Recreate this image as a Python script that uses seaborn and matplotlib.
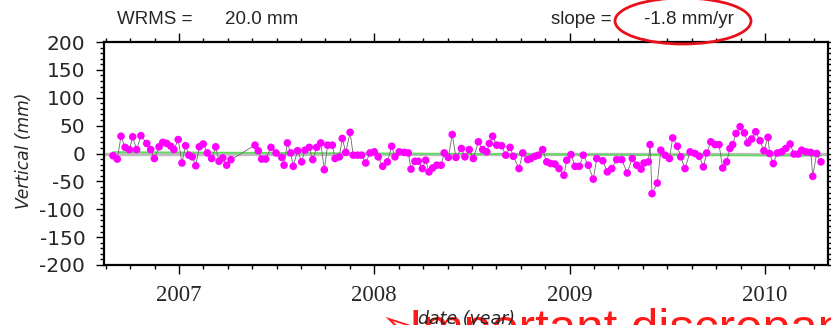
import numpy as np
import pandas as pd
import matplotlib
matplotlib.use("Agg")
import matplotlib.pyplot as plt
import seaborn as sns
from matplotlib.patches import Ellipse
from matplotlib.ticker import MultipleLocator, FixedLocator

# ---------------- data ----------------
years = [
    2006.662, 2006.684, 2006.703, 2006.724, 2006.746, 2006.763, 2006.783, 2006.805,
    2006.835, 2006.855, 2006.874, 2006.898, 2006.917, 2006.937, 2006.958, 2006.974,
    2006.996, 2007.015, 2007.034, 2007.051, 2007.068, 2007.086, 2007.104, 2007.124,
    2007.145, 2007.167, 2007.188, 2007.205, 2007.224, 2007.244, 2007.266,
    2007.389, 2007.406, 2007.423, 2007.444, 2007.471, 2007.497, 2007.526, 2007.538,
    2007.555, 2007.572, 2007.585, 2007.607, 2007.628, 2007.645, 2007.667, 2007.685,
    2007.705, 2007.726, 2007.744, 2007.761, 2007.785, 2007.799, 2007.821, 2007.836,
    2007.854, 2007.876, 2007.892, 2007.915, 2007.935, 2007.956, 2007.978, 2008.000,
    2008.020, 2008.043, 2008.067, 2008.089, 2008.106, 2008.128, 2008.154, 2008.174,
    2008.188, 2008.208, 2008.225, 2008.246, 2008.263, 2008.280, 2008.299, 2008.320,
    2008.342, 2008.358, 2008.379, 2008.399, 2008.418, 2008.446, 2008.464, 2008.486,
    2008.507, 2008.533, 2008.555, 2008.576, 2008.589, 2008.606, 2008.627, 2008.652,
    2008.673, 2008.695, 2008.712, 2008.741, 2008.760, 2008.785, 2008.802, 2008.823,
    2008.840, 2008.862, 2008.883, 2008.903, 2008.925, 2008.946, 2008.971, 2008.985,
    2009.007, 2009.028, 2009.050, 2009.070, 2009.096, 2009.121, 2009.139, 2009.170,
    2009.193, 2009.216, 2009.241, 2009.267, 2009.295, 2009.321, 2009.344, 2009.366,
    2009.381, 2009.403, 2009.412, 2009.422, 2009.449, 2009.467, 2009.489, 2009.511,
    2009.528, 2009.552, 2009.569, 2009.591, 2009.617, 2009.642, 2009.664, 2009.685,
    2009.702, 2009.723, 2009.745, 2009.765, 2009.784, 2009.804, 2009.821, 2009.835,
    2009.852, 2009.873, 2009.895, 2009.912, 2009.932, 2009.953, 2009.975, 2009.995,
    2010.016, 2010.024, 2010.043, 2010.064, 2010.086, 2010.107, 2010.129, 2010.149,
    2010.171, 2010.188, 2010.210, 2010.235, 2010.245, 2010.265, 2010.287,
]
vertical_mm = [
    -4, -10, 31, 11, 7, 30, 7, 32,
    18, 7, -9, 12, 20, 18, 13, 7,
    25, -17, 14, -3, -6, -22, 12, 17,
    1, -9, 12, -14, -8, -21, -11,
    15, 5, -10, -10, 11, 1, -7, -21,
    19, 1, -23, 5, -15, 6, 11, -11,
    11, 19, -29, 15, 15, -9, -6, 27,
    2, 38, -3, -3, -3, -17, 1, 3,
    -6, -23, -15, 13, -6, 3, 2, 1,
    -28, -14, -14, -27, -12, -33, -26, -21,
    -21, 1, -7, 34, -7, 9, -6, 7,
    -9, 21, 7, 3, 18, 31, 15, 14,
    -3, 11, -5, -27, 1, -11, -9, -5,
    -3, 7, -15, -18, -19, -27, -39, -12,
    -2, -23, -23, -3, -21, -46, -9, -13,
    -33, -27, -11, -11, -35, -9, -21, -28,
    -17, -15, 16, -72, -53, 6, -3, -9,
    28, 13, -6, -27, 3, 0, -5, -24,
    1, 21, 16, 16, -26, -15, 9, 16,
    36, 48, 37, 19, 26, 39, 23, 5,
    29, 0, -18, 1, 3, 9, 17, -1,
    -1, 6, 3, 2, -41, 0, -15,
]
wrms_mm = 20.0
slope_mm_per_yr = -1.8
fit_ref_epoch = 2008.5
fit_value_at_ref = -0.8
x_tick_years = [2007, 2008, 2009, 2010]
y_tick_values = [-200, -150, -100, -50, 0, 50, 100, 150, 200]

df = pd.DataFrame({"year": years, "vertical": vertical_mm})
fit_df = pd.DataFrame({"year": [years[0], years[-1]]})
fit_df["vertical"] = fit_value_at_ref + slope_mm_per_yr * (fit_df["year"] - fit_ref_epoch)

# ---------------- style ----------------
sns.set_theme(style="white")
plt.rcParams["font.family"] = ["DejaVu Sans"]
plt.rcParams["axes.unicode_minus"] = False

fig = plt.figure(figsize=(8.31, 3.25), dpi=100)
ax = fig.add_axes([104 / 831, 1 - 265 / 325, (828 - 104) / 831, (265 - 42) / 325])

ax.axhline(0, color="#bdbdbd", lw=2.4, zorder=1)
sns.lineplot(data=fit_df, x="year", y="vertical", color="#5fdc5f", lw=1.3,
             ax=ax, zorder=2, estimator=None)
sns.lineplot(data=df, x="year", y="vertical", sort=False, estimator=None,
             color="#6a6a6a", lw=0.6, ax=ax, zorder=3)
sns.scatterplot(data=df, x="year", y="vertical", color="#ff00ff", s=30,
                edgecolor="none", linewidth=0, ax=ax, zorder=4)

ax.set_xlim(2006.616, 2010.323)
ax.set_ylim(-200, 200)
ax.xaxis.set_major_locator(FixedLocator(x_tick_years))
ax.xaxis.set_minor_locator(MultipleLocator(0.125))
ax.yaxis.set_major_locator(FixedLocator(y_tick_values))
ax.yaxis.set_minor_locator(MultipleLocator(10))
ax.set_xticklabels([str(y) for y in x_tick_years], family="Liberation Serif", fontsize=16.5)
ax.set_yticklabels([str(v) for v in y_tick_values], fontsize=14.5)

for s in ax.spines.values():
    s.set_color("black")
    s.set_linewidth(1.6)
ax.tick_params(which="both", direction="out", color="black", width=1.0,
               top=True, right=True, bottom=True, left=True)
ax.tick_params(which="major", length=5.5)
ax.tick_params(which="minor", length=3)
ax.tick_params(axis="x", which="major", pad=8, length=6.5)
ax.tick_params(axis="y", which="major", pad=8)
ax.set_xlabel("")
ax.set_ylabel("")

# axis labels
fig.text(24 / 831, 1 - 151 / 325, "Vertical (mm)", rotation=90, style="italic",
         fontsize=12.3, ha="center", va="center")

# header
fig.text(117 / 831, 1 - 20 / 325, "WRMS =", family="Liberation Sans", fontsize=13.5,
         ha="left", va="center")
fig.text(225 / 831, 1 - 20 / 325, f"{wrms_mm:.1f} mm", family="Liberation Sans",
         fontsize=13.5, ha="left", va="center")
fig.text(551 / 831, 1 - 20 / 325, "slope =", family="Liberation Sans", fontsize=13.5,
         ha="left", va="center")
fig.text(644 / 831, 1 - 20 / 325, f"{slope_mm_per_yr:.1f} mm/yr", family="Liberation Sans",
         fontsize=13.5, ha="left", va="center")
ell = Ellipse((683 / 831, 1 - 21 / 325), 136 / 831, 46 / 325, transform=fig.transFigure,
              fill=False, edgecolor="#e8101a", lw=2.0)
fig.add_artist(ell)

# bottom red overlay text (clipped by figure edge)
fig.text(380 / 831, 1 - 343 / 325, "➢", color="#ff1a1a", fontsize=35.5,
         family=["DejaVu Sans"], ha="left", va="baseline", zorder=1)
fig.text(409 / 831, 1 - 343 / 325, "Important discrepancy", color="#ff1a1a", fontsize=35.5,
         family=["Liberation Sans", "DejaVu Sans"], ha="left", va="baseline", zorder=1)
fig.text(467 / 831, 1 - 319 / 325, "date (year)", style="italic", fontsize=12.5,
         ha="center", va="center", zorder=5)

fig.savefig("out.png", dpi=100)
